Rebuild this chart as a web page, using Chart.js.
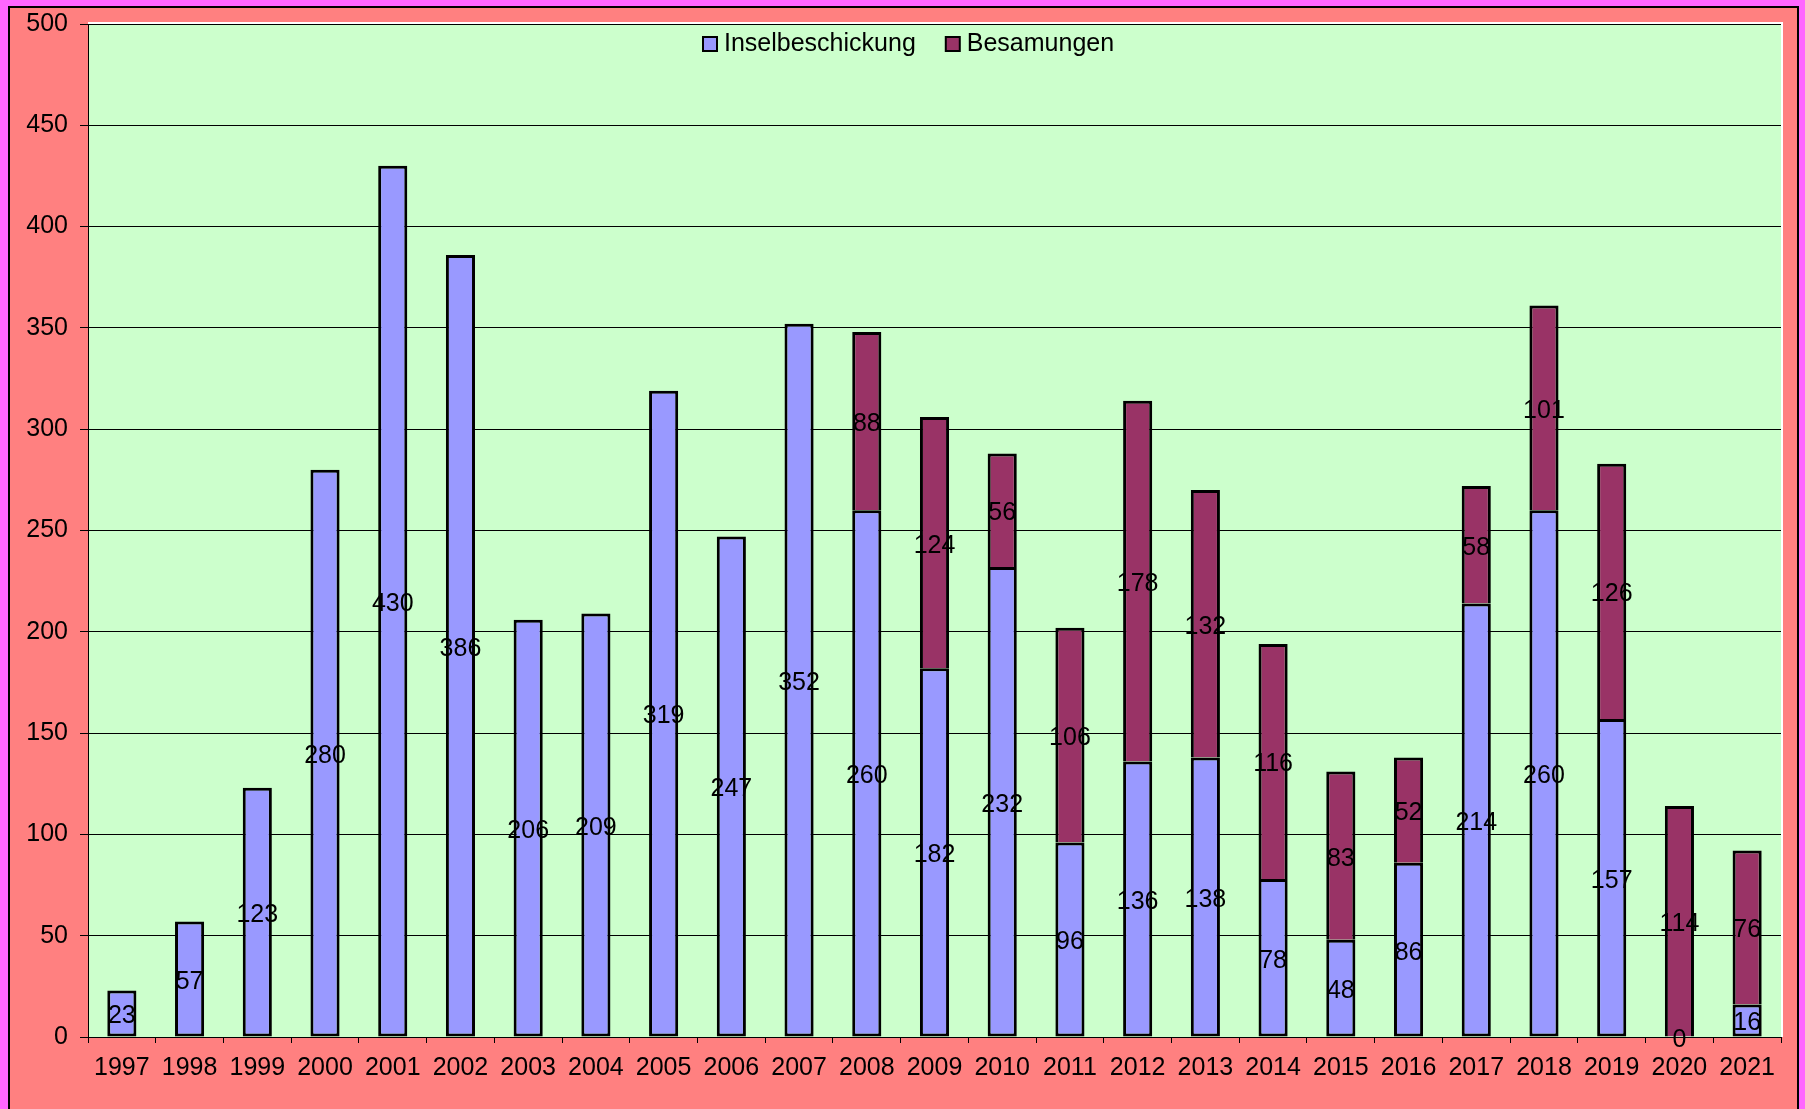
<!DOCTYPE html>
<html>
<head>
<meta charset="utf-8">
<script src="https://cdn.jsdelivr.net/npm/chart.js@4"></script>
<style>
  html, body { margin: 0; padding: 0; background: #FF66FF; overflow: hidden; }
  #frame {
    position: absolute; left: 8px; top: 6px;
    width: 1787px; height: 1120px;
    border: 2px solid #000; background: #FF8080;
  }
  #chart { display: block; }
</style>
</head>
<body>
<div id="frame"><canvas id="chart" width="1787" height="1101"></canvas></div>
<script>
const years = ["1997","1998","1999","2000","2001","2002","2003","2004","2005","2006","2007","2008","2009",
               "2010","2011","2012","2013","2014","2015","2016","2017","2018","2019","2020","2021"];
const insel = [23, 57, 123, 280, 430, 386, 206, 209, 319, 247, 352, 260, 182,
               232, 96, 136, 138, 78, 48, 86, 214, 260, 157, 0, 16];
const besamungen = [null, null, null, null, null, null, null, null, null, null, null, 88, 124,
                    56, 106, 178, 132, 116, 83, 52, 58, 101, 126, 114, 76];
const yTicks = [0, 50, 100, 150, 200, 250, 300, 350, 400, 450, 500];

const FONT = "'Liberation Sans', Arial, sans-serif";

// salmon canvas, green plot area
const background = {
    id: 'background',
    beforeDraw(chart) {
        const { ctx, chartArea: a } = chart;
        ctx.save();
        ctx.fillStyle = '#FF8080';
        ctx.fillRect(0, 0, chart.width, chart.height);
        ctx.fillStyle = '#CCFFCC';
        ctx.fillRect(a.left, a.top, a.right - a.left, a.bottom - a.top);
        ctx.strokeStyle = '#FFFFFF';
        ctx.lineWidth = 2;
        ctx.beginPath();
        ctx.moveTo(a.left, a.top - 1);
        ctx.lineTo(a.right + 1, a.top - 1);
        ctx.lineTo(a.right + 1, a.bottom);
        ctx.stroke();
        ctx.restore();
    }
};

// value labels in the middle of each segment
const valueLabels = {
    id: 'valueLabels',
    afterDatasetsDraw(chart) {
        const ctx = chart.ctx;
        ctx.save();
        ctx.font = '25px ' + FONT;
        ctx.fillStyle = '#000';
        ctx.textAlign = 'center';
        ctx.textBaseline = 'middle';
        chart.data.datasets.forEach((ds, i) => {
            chart.getDatasetMeta(i).data.forEach((bar, j) => {
                const v = ds.data[j];
                if (v === null) return;
                ctx.fillText(String(v), bar.x, (bar.y + bar.base) / 2 + 3);
            });
        });
        ctx.restore();
    }
};

// legend inside the plot area, near the top
const innerLegend = {
    id: 'innerLegend',
    afterDraw(chart) {
        const { ctx, chartArea: a } = chart;
        ctx.save();
        ctx.font = '25px ' + FONT;
        ctx.textBaseline = 'middle';
        ctx.textAlign = 'left';
        let x = a.left + 615;
        const y = a.top + 20;
        chart.data.datasets.forEach(ds => {
            ctx.fillStyle = ds.backgroundColor;
            ctx.fillRect(x, y - 7, 14, 14);
            ctx.strokeStyle = '#000';
            ctx.lineWidth = 2;
            ctx.strokeRect(x, y - 7, 14, 14);
            ctx.fillStyle = '#000';
            ctx.fillText(ds.label, x + 21, y);
            x += 21 + ctx.measureText(ds.label).width + 30;
        });
        ctx.restore();
    }
};

new Chart(document.getElementById('chart'), {
    type: 'bar',
    data: {
        labels: years,
        datasets: [{
            label: 'Inselbeschickung',
            data: insel,
            backgroundColor: '#9999FF',
            borderColor: '#000',
            borderWidth: 3,
            borderSkipped: false
        }, {
            label: 'Besamungen',
            data: besamungen,
            backgroundColor: '#993366',
            borderColor: '#000',
            borderWidth: 3,
            borderSkipped: 'start'
        }]
    },
    options: {
        responsive: false,
        animation: false,
        categoryPercentage: 1,
        barPercentage: 0.43,
        layout: { padding: { top: 16, right: 16, left: 0, bottom: 0 } },
        plugins: {
            tooltip: { enabled: false },
            legend: { display: false }
        },
        scales: {
            x: {
                stacked: true,
                afterFit: s => { s.height = 72; s.paddingLeft = 0; s.paddingRight = 0; },
                border: { color: '#000', width: 1 },
                grid: { offset: true, drawOnChartArea: false, color: '#000', tickLength: 6 },
                ticks: { color: '#000', font: { family: FONT, size: 25 }, padding: 10, maxRotation: 0 }
            },
            y: {
                stacked: true,
                min: 0,
                max: 500,
                afterFit: s => { s.width = 78; s.paddingTop = 0; s.paddingBottom = 0; },
                afterBuildTicks: s => { s.ticks = yTicks.map(v => ({ value: v })); },
                border: { color: '#000', width: 1 },
                grid: { color: '#000', lineWidth: 1, tickLength: 8 },
                ticks: { color: '#000', font: { family: FONT, size: 25 }, padding: 12 }
            }
        }
    },
    plugins: [background, valueLabels, innerLegend]
});
</script>
</body>
</html>
